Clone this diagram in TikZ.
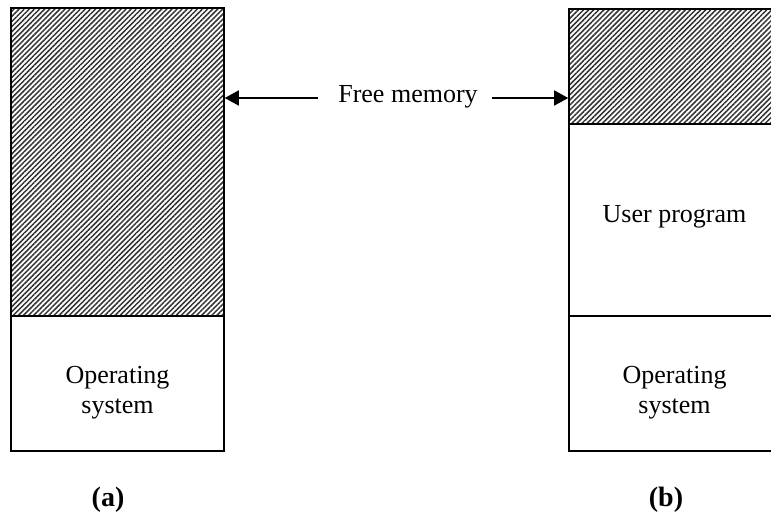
\documentclass[tikz,border=0pt]{standalone}
\usepackage{fontspec}
\setmainfont{Liberation Serif}
\usetikzlibrary{arrows.meta,patterns.meta}
\begin{document}
\begin{tikzpicture}[x=1pt,y=-1pt,
  region/.style={draw=black, line width=1.6pt, rectangle, inner sep=0pt},
  hatched/.style={region,
    pattern={Lines[angle=45,distance=3.6pt,line width=1.5pt]},
    pattern color=black!80},
  label/.style={font=\fontsize{26}{30}\selectfont, align=center, inner sep=0pt},
  arr/.style={line width=1.5pt, -{Triangle[length=14pt,width=15pt]}},
  caption/.style={font=\fontsize{28}{32}\selectfont\bfseries, inner sep=0pt}]
  \useasboundingbox (0,0) rectangle (771,517);
  \clip (0,0) rectangle (771,517);

  % memory layout (a)
  \node[hatched, minimum width=213pt, minimum height=308pt] (freeA) at (117.5,162) {};
  \node[region, minimum width=213pt, minimum height=135pt] (osA) at (117.5,383.5) {};
  \node[label] (osTextA) at (117.5,392.5) {Operating\\system};

  % memory layout (b)
  \node[hatched, minimum width=211pt, minimum height=115pt] (freeB) at (674.5,66.5) {};
  \node[region, minimum width=211pt, minimum height=192pt] (userB) at (674.5,220) {};
  \node[label] (userText) at (674.5,217) {User program};
  \node[region, minimum width=211pt, minimum height=135pt] (osB) at (674.5,383.5) {};
  \node[label] (osTextB) at (674.5,392.5) {Operating\\system};

  % free memory label with arrows
  \node[label] (free) at (408,97) {Free memory};
  \coordinate (tailL) at (318,98);
  \coordinate (tailR) at (492,98);
  \draw[arr] (tailL) -- (freeA.east |- tailL);
  \draw[arr] (tailR) -- (freeB.west |- tailR);

  % captions
  \node[caption] (capA) at (108,500) {(a)};
  \node[caption] (capB) at (666,500) {(b)};
\end{tikzpicture}
\end{document}
